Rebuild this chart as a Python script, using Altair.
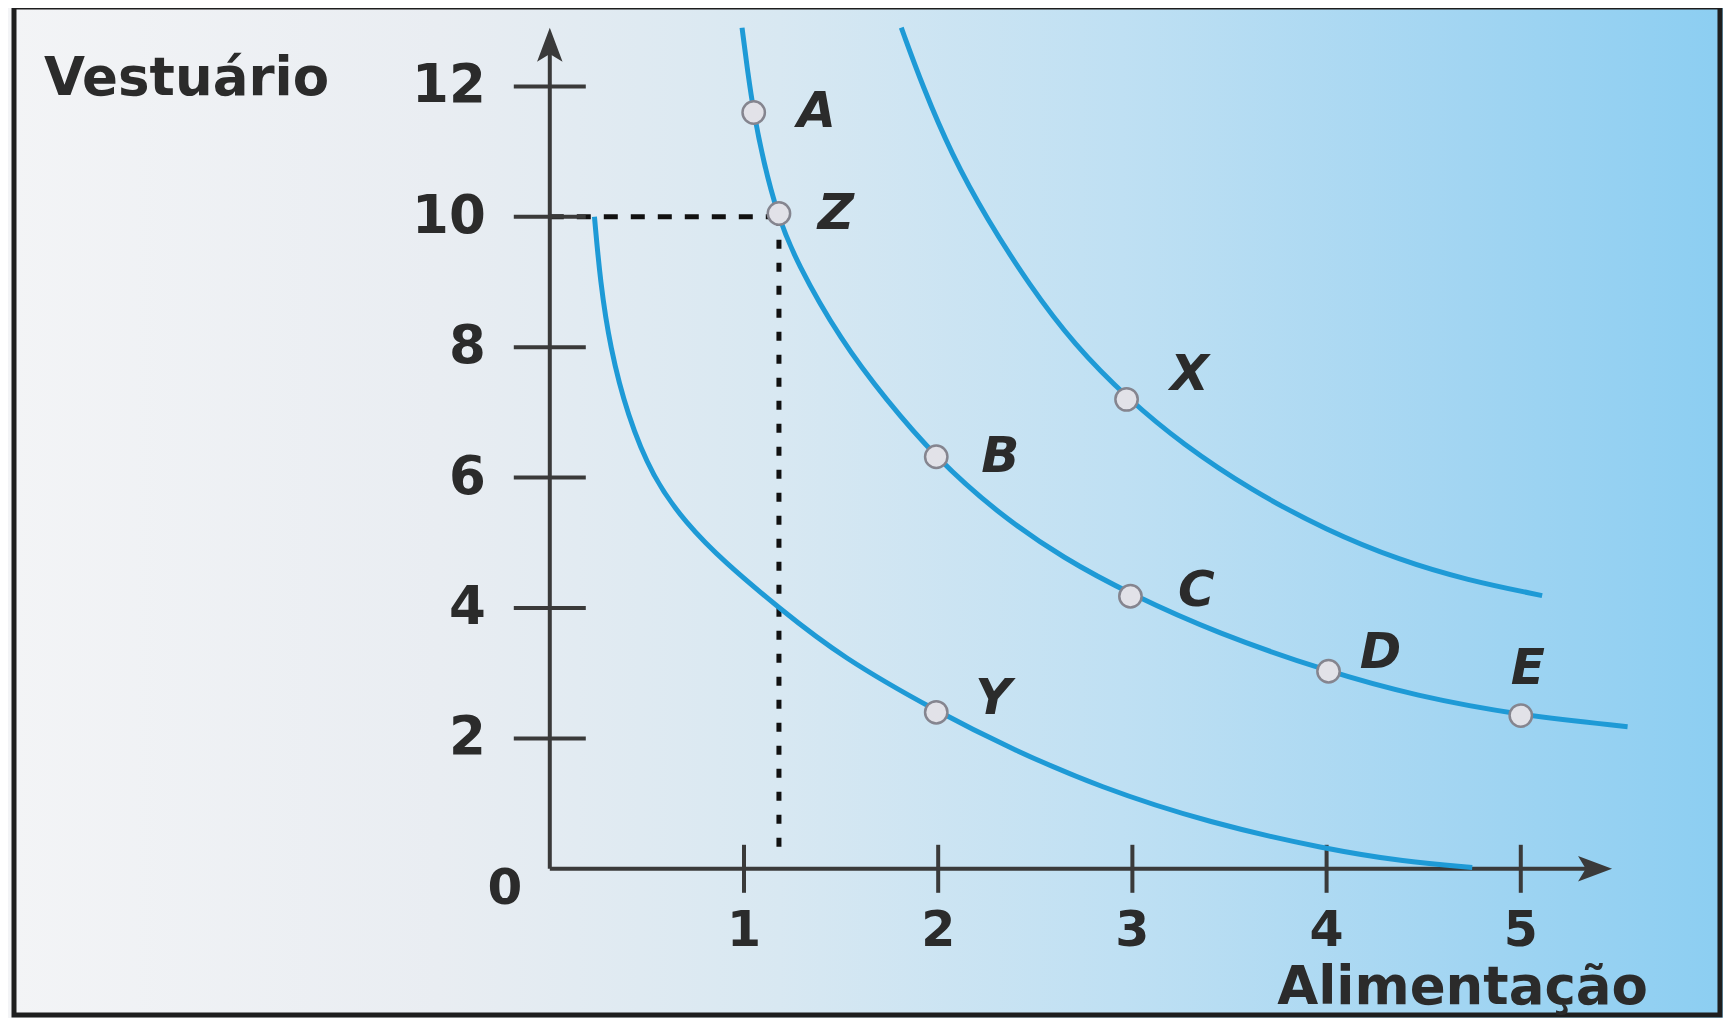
import altair as alt
import pandas as pd

# ---------------- data ----------------
y_tick_values = [2, 4, 6, 8, 10, 12]
x_tick_values = [1, 2, 3, 4, 5]

# inner indifference curve (through Y)
u1_x = [0.23, 0.26, 0.31, 0.40, 0.53, 0.70, 0.90, 1.18, 1.50, 2.00, 2.37, 2.83, 3.40, 4.00, 4.40, 4.75]
u1_y = [10.0, 9.00, 8.00, 6.95, 6.00, 5.30, 4.70, 4.00, 3.25, 2.40, 1.85, 1.25, 0.70, 0.30, 0.11, 0.02]

# middle indifference curve (through A, Z, B, C, D, E)
u2_x = [0.99, 1.02, 1.05, 1.10, 1.17, 1.27, 1.50, 1.73, 1.99, 2.30, 2.65, 3.00, 3.43, 4.00, 4.46, 5.00, 5.55]
u2_y = [12.9, 12.2, 11.6, 10.85, 10.05, 9.30, 8.10, 7.20, 6.30, 5.47, 4.75, 4.20, 3.62, 3.03, 2.65, 2.35, 2.18]

# outer indifference curve (through X)
u3_x = [1.81, 1.92, 2.07, 2.25, 2.47, 2.70, 2.98, 3.26, 3.61, 4.00, 4.38, 4.72, 5.11]
u3_y = [12.9, 12.0, 10.95, 9.97, 8.95, 8.04, 7.20, 6.51, 5.81, 5.19, 4.73, 4.43, 4.19]

point_names = ["A", "Z", "B", "C", "D", "E", "X", "Y"]
point_x = [1.05, 1.18, 1.99, 2.99, 4.01, 5.00, 2.97, 1.99]
point_y = [11.6, 10.05, 6.32, 4.18, 3.03, 2.35, 7.20, 2.40]

guide_h_x = [0, 1.18]
guide_h_y = [10, 10]
guide_v_x = [1.18, 1.18]
guide_v_y = [10, 0.15]

y_axis_top = 12.9
x_axis_end = 5.47

y_title = "Vestuário"
x_title = "Alimentação"

# ---------------- layout / style ----------------
X_MAX, Y_MAX = 5.6, 13.0
PX_X, PX_Y = 194.2, 65.2
W, H = X_MAX * PX_X, Y_MAX * PX_Y
PAD_L, PAD_T, PAD_R, PAD_B = 541.8, 13.2, 85.7, 149.0

AXIS_COL = "#3a3a3a"
CURVE_COL = "#1e9ad6"
TEXT_COL = "#2b2b2b"
FONT = "DejaVu Sans"

xs = alt.Scale(domain=[0, X_MAX], nice=False, zero=False)
ys = alt.Scale(domain=[0, Y_MAX], nice=False, zero=False)
X = lambda f: alt.X(f, type="quantitative", scale=xs, axis=None)
Y = lambda f: alt.Y(f, type="quantitative", scale=ys, axis=None)

one = pd.DataFrame({"k": [0]})

# background gradient + frame
bg = alt.Chart(one).mark_rect(
    fill=alt.Gradient(
        gradient="linear", x1=0, x2=1, y1=0, y2=0,
        stops=[
            alt.GradientStop(color="#f3f4f6", offset=0),
            alt.GradientStop(color="#e9edf2", offset=0.25),
            alt.GradientStop(color="#d8e8f2", offset=0.45),
            alt.GradientStop(color="#bfe0f3", offset=0.65),
            alt.GradientStop(color="#a2d5f2", offset=0.85),
            alt.GradientStop(color="#8ccef2", offset=1),
        ],
    )
).encode(
    x=alt.value(-PAD_L), x2=alt.value(W + PAD_R),
    y=alt.value(-PAD_T), y2=alt.value(H + PAD_B),
)

frame = alt.Chart(one).mark_rect(
    fillOpacity=0, stroke="#1e1e1e", strokeWidth=5
).encode(
    x=alt.value(14 - 8 - PAD_L), x2=alt.value(1720 - 8 - PAD_L),
    y=alt.value(7 - 8 - PAD_T), y2=alt.value(1015 - 8 - PAD_T),
)

# axes
yaxis_df = pd.DataFrame({"x": [0], "y": [0], "y2": [y_axis_top - 0.3]})
xaxis_df = pd.DataFrame({"x": [0], "x2": [x_axis_end - 0.1], "y": [0]})
yaxis = alt.Chart(yaxis_df).mark_rule(color=AXIS_COL, strokeWidth=4).encode(
    x=X("x"), y=Y("y"), y2="y2")
xaxis = alt.Chart(xaxis_df).mark_rule(color=AXIS_COL, strokeWidth=4).encode(
    x=X("x"), x2="x2", y=Y("y"))

ARROW = 34.0
up_arrow = alt.Chart(pd.DataFrame({"x": [0], "y": [y_axis_top - ARROW / 2 / PX_Y]})).mark_point(
    shape="M0,-1L0.75,1L0,0.55L-0.75,1Z", filled=True, size=ARROW ** 2,
    color=AXIS_COL, opacity=1).encode(x=X("x"), y=Y("y"))
right_arrow = alt.Chart(pd.DataFrame({"x": [x_axis_end - ARROW / 2 / PX_X], "y": [0]})).mark_point(
    shape="M1,0L-1,0.75L-0.55,0L-1,-0.75Z", filled=True, size=ARROW ** 2,
    color=AXIS_COL, opacity=1).encode(x=X("x"), y=Y("y"))

YT_HALF = 36 / PX_X
XT_HALF = 24 / PX_Y
ytick_df = pd.DataFrame({"y": y_tick_values, "x": -YT_HALF, "x2": YT_HALF, "x0": 0})
xtick_df = pd.DataFrame({"x": x_tick_values, "y": -XT_HALF, "y2": XT_HALF, "y0": 0})

yticks = alt.Chart(ytick_df).mark_rule(color=AXIS_COL, strokeWidth=4).encode(
    x=X("x"), x2="x2", y=Y("y"))
xticks = alt.Chart(xtick_df).mark_rule(color=AXIS_COL, strokeWidth=4).encode(
    x=X("x"), y=Y("y"), y2="y2")

ylabels = alt.Chart(ytick_df).mark_text(
    align="right", baseline="middle", dx=-64, font=FONT, fontWeight="bold",
    fontSize=53, color=TEXT_COL).encode(x=X("x0"), y=Y("y"), text=alt.Text("y:Q"))
xlabels = alt.Chart(xtick_df).mark_text(
    align="center", baseline="middle", dy=62, font=FONT, fontWeight="bold",
    fontSize=49, color=TEXT_COL).encode(x=X("x"), y=Y("y0"), text=alt.Text("x:Q"))
zero_label = alt.Chart(pd.DataFrame({"x": [0], "y": [0], "t": ["0"]})).mark_text(
    align="center", baseline="middle", dx=-45, dy=20, font=FONT, fontWeight="bold",
    fontSize=50, color=TEXT_COL).encode(x=X("x"), y=Y("y"), text="t")

ytitle = alt.Chart(pd.DataFrame({"t": [y_title]})).mark_text(
    align="left", baseline="alphabetic", font=FONT, fontWeight="bold",
    fontSize=53, color=TEXT_COL).encode(
    x=alt.value(44 - 8 - PAD_L), y=alt.value(95 - 8 - PAD_T), text="t")
xtitle = alt.Chart(pd.DataFrame({"t": [x_title]})).mark_text(
    align="right", baseline="alphabetic", font=FONT, fontWeight="bold",
    fontSize=53, color=TEXT_COL).encode(
    x=alt.value(1648 - 8 - PAD_L), y=alt.value(1004 - 8 - PAD_T), text="t")

# guides (dashed)
gh = alt.Chart(pd.DataFrame({"x": guide_h_x, "y": guide_h_y})).mark_line(
    color="#111111", strokeWidth=5, strokeDash=[14, 13]).encode(x=X("x"), y=Y("y"))
gv = alt.Chart(pd.DataFrame({"x": guide_v_x, "y": guide_v_y, "o": [0, 1]})).mark_line(
    color="#111111", strokeWidth=5, strokeDash=[9, 14]).encode(
    x=X("x"), y=Y("y"), order="o:O")

# curves
curve_df = pd.concat([
    pd.DataFrame({"x": u1_x, "y": u1_y, "c": "U1"}),
    pd.DataFrame({"x": u2_x, "y": u2_y, "c": "U2"}),
    pd.DataFrame({"x": u3_x, "y": u3_y, "c": "U3"}),
], ignore_index=True)
curve_df["o"] = curve_df.groupby("c").cumcount()
curves = alt.Chart(curve_df).mark_line(
    color=CURVE_COL, strokeWidth=5, interpolate="basis").encode(
    x=X("x"), y=Y("y"), detail="c:N", order="o:Q")

pts_df = pd.DataFrame({"n": point_names, "x": point_x, "y": point_y})
points = alt.Chart(pts_df).mark_point(
    shape="circle", filled=True, size=500, fill="#e2e2e8", stroke="#85858f",
    strokeWidth=2.5, opacity=1).encode(x=X("x"), y=Y("y"))

label_offsets = {"A": (63, 0), "Z": (57, 0), "B": (64, 0), "C": (66, -5),
                 "D": (52, -18), "E": (7, -47), "X": (63, -24), "Y": (57, -13)}
label_layers = []
for name, (ddx, ddy) in label_offsets.items():
    label_layers.append(
        alt.Chart(pts_df).transform_filter(alt.datum.n == name).mark_text(
            align="center", baseline="middle", dx=ddx, dy=ddy, font=FONT,
            fontWeight="bold", fontStyle="italic", fontSize=50, color=TEXT_COL
        ).encode(x=X("x"), y=Y("y"), text="n")
    )

chart = alt.layer(
    bg, frame, gh, gv, yaxis, xaxis, yticks, xticks, up_arrow, right_arrow,
    curves, points, ylabels, xlabels, zero_label, ytitle, xtitle, *label_layers
).properties(
    width=W, height=H,
    padding={"left": PAD_L, "top": PAD_T, "right": PAD_R, "bottom": PAD_B},
    autosize=alt.AutoSizeParams(type="none"),
    background="#f3f4f6",
).configure_view(stroke=None)

chart.save("out.html", embed_options={"renderer": "svg", "actions": False})
